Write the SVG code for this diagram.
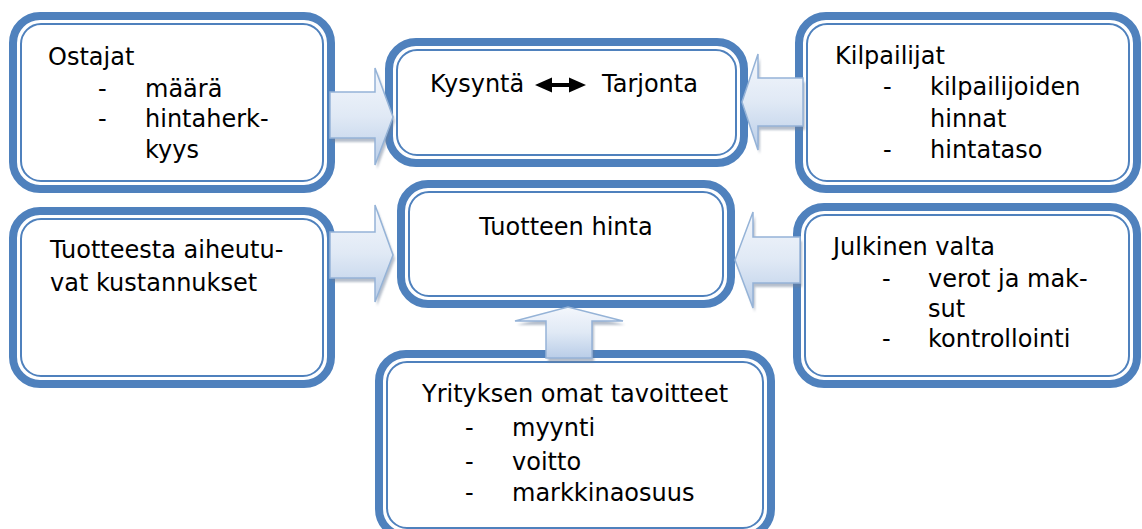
<svg xmlns="http://www.w3.org/2000/svg" width="1142" height="529" viewBox="0 0 1142 529">
  <style>
    .outer { fill: #ffffff; stroke: #4f81bd; stroke-width: 8; }
    .inner { fill: none; stroke: #4f81bd; stroke-width: 2; }
    .t { font-family: "DejaVu Sans", "Liberation Sans", sans-serif; font-size: 24px; fill: #000000; }
    .arrow { fill: url(#ag); stroke: #95b3d7; stroke-width: 1.5; stroke-linejoin: miter; }
    .shadow { fill: #6d7f99; opacity: 0.5; filter: url(#blur); }
  </style>
  <defs>
    <linearGradient id="ag" x1="0" y1="0" x2="0" y2="1">
      <stop offset="0" stop-color="#f4f7fc"/>
      <stop offset="0.5" stop-color="#e0e9f5"/>
      <stop offset="1" stop-color="#b9cde8"/>
    </linearGradient>
    <filter id="blur" x="-10%" y="-10%" width="120%" height="120%">
      <feGaussianBlur stdDeviation="1"/>
    </filter>
  </defs>
  <rect width="1142" height="529" fill="#ffffff"/>

  <g id="ostajat">
    <rect class="outer" x="13" y="16" width="318" height="173" rx="27"/>
    <rect class="inner" x="21" y="24" width="302" height="157" rx="20"/>
    <text class="t" x="48" y="65">Ostajat</text>
    <text class="t" x="98" y="97">-</text>
    <text class="t" x="145" y="97">määrä</text>
    <text class="t" x="98" y="127">-</text>
    <text class="t" x="145" y="127">hintaherk-</text>
    <text class="t" x="145" y="158">kyys</text>
  </g>

  <g id="kysynta">
    <rect class="outer" x="389" y="42" width="355" height="121" rx="27"/>
    <rect class="inner" x="397" y="50" width="339" height="105" rx="20"/>
    <text class="t" x="430" y="92">Kysyntä</text>
    <path d="M535,85 L552,77.5 L552,83 L569,83 L569,77.5 L586,85 L569,92.5 L569,87 L552,87 L552,92.5 Z" fill="#000000"/>
    <text class="t" x="602" y="92">Tarjonta</text>
  </g>

  <g id="kilpailijat">
    <rect class="outer" x="799" y="16" width="338" height="173" rx="27"/>
    <rect class="inner" x="807" y="24" width="322" height="157" rx="20"/>
    <text class="t" x="835" y="64">Kilpailijat</text>
    <text class="t" x="883" y="95">-</text>
    <text class="t" x="930" y="95">kilpailijoiden</text>
    <text class="t" x="930" y="127">hinnat</text>
    <text class="t" x="883" y="158">-</text>
    <text class="t" x="930" y="158">hintataso</text>
  </g>

  <g id="tuotteesta">
    <rect class="outer" x="13" y="211" width="318" height="173" rx="27"/>
    <rect class="inner" x="21" y="219" width="302" height="157" rx="20"/>
    <text class="t" x="50" y="258">Tuotteesta aiheutu-</text>
    <text class="t" x="50" y="291">vat kustannukset</text>
  </g>

  <g id="hinta">
    <rect class="outer" x="401" y="184" width="330" height="120" rx="27"/>
    <rect class="inner" x="409" y="192" width="314" height="104" rx="20"/>
    <text class="t" x="566" y="235" text-anchor="middle">Tuotteen hinta</text>
  </g>

  <g id="julkinen">
    <rect class="outer" x="797" y="207" width="340" height="177" rx="27"/>
    <rect class="inner" x="805" y="215" width="324" height="161" rx="20"/>
    <text class="t" x="833" y="255">Julkinen valta</text>
    <text class="t" x="882" y="287">-</text>
    <text class="t" x="928" y="287">verot ja mak-</text>
    <text class="t" x="928" y="317">sut</text>
    <text class="t" x="882" y="347">-</text>
    <text class="t" x="928" y="347">kontrollointi</text>
  </g>

  <g id="yrityksen">
    <rect class="outer" x="379" y="354" width="392" height="182" rx="27"/>
    <rect class="inner" x="387" y="362" width="376" height="166" rx="20"/>
    <text class="t" x="422" y="402">Yrityksen omat tavoitteet</text>
    <text class="t" x="465" y="436">-</text>
    <text class="t" x="512" y="436">myynti</text>
    <text class="t" x="465" y="470">-</text>
    <text class="t" x="512" y="470">voitto</text>
    <text class="t" x="465" y="501">-</text>
    <text class="t" x="512" y="501">markkinaosuus</text>
  </g>

  <g id="connectors">
    <g transform="translate(2,4)">
      <polygon class="shadow" points="330,92 375,92 375,68 393,117 375,165 375,138 330,138"/>
      <polygon class="shadow" points="803,78 758,78 758,54 742,102 758,150 758,126 803,126"/>
      <polygon class="shadow" points="330,232 375,232 375,205 393,255 375,302 375,278 330,278"/>
      <polygon class="shadow" points="800,237 753,237 753,212 735,260 753,308 753,283 800,283"/>
      <polygon class="shadow" points="546,358 546,321 515,321 568,307 623,321 592,321 592,358"/>
    </g>
    <polygon class="arrow" points="330,92 375,92 375,68 393,117 375,165 375,138 330,138"/>
    <polygon class="arrow" points="803,78 758,78 758,54 742,102 758,150 758,126 803,126"/>
    <polygon class="arrow" points="330,232 375,232 375,205 393,255 375,302 375,278 330,278"/>
    <polygon class="arrow" points="800,237 753,237 753,212 735,260 753,308 753,283 800,283"/>
    <polygon class="arrow" points="546,358 546,321 515,321 568,307 623,321 592,321 592,358"/>
  </g>
</svg>
